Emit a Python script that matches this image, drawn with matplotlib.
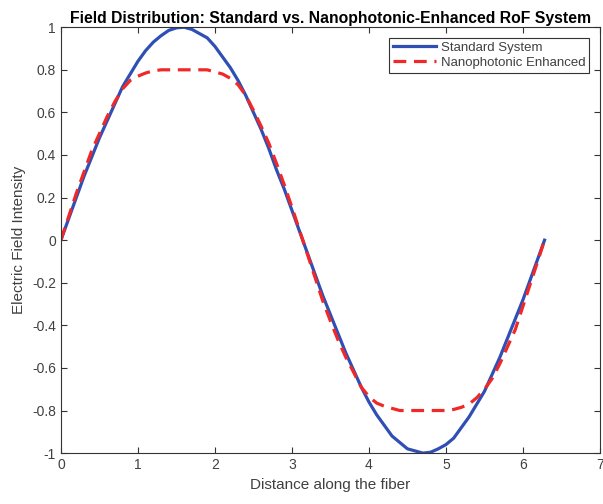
import matplotlib
matplotlib.use("Agg")
import matplotlib.pyplot as plt

# values
x = [0.0, 0.1, 0.2, 0.3, 0.4, 0.5, 0.6, 0.7, 0.8, 0.9,
     1.0, 1.1, 1.2, 1.3, 1.4, 1.5, 1.6, 1.7, 1.8, 1.9,
     2.0, 2.1, 2.2, 2.3, 2.4, 2.5, 2.6, 2.7, 2.8, 2.9,
     3.0, 3.1, 3.2, 3.3, 3.4, 3.5, 3.6, 3.7, 3.8, 3.9,
     4.0, 4.1, 4.2, 4.3, 4.4, 4.5, 4.6, 4.7, 4.8, 4.9,
     5.0, 5.1, 5.2, 5.3, 5.4, 5.5, 5.6, 5.7, 5.8, 5.9,
     6.0, 6.1, 6.2, 6.28]
standard = [0.0, 0.10, 0.20, 0.30, 0.39, 0.48, 0.56, 0.64, 0.72, 0.78,
            0.84, 0.89, 0.93, 0.96, 0.985, 0.997, 1.0, 0.99, 0.97, 0.95,
            0.91, 0.86, 0.81, 0.75, 0.68, 0.60, 0.52, 0.43, 0.33, 0.24,
            0.14, 0.04, -0.06, -0.16, -0.26, -0.35, -0.44, -0.53, -0.61, -0.69,
            -0.76, -0.82, -0.87, -0.92, -0.95, -0.98, -0.99, -1.0, -0.996, -0.98,
            -0.96, -0.93, -0.88, -0.83, -0.77, -0.71, -0.63, -0.55, -0.46, -0.37,
            -0.28, -0.18, -0.08, 0.0]
enhanced = [0.0, 0.11, 0.22, 0.32, 0.42, 0.50, 0.58, 0.65, 0.71, 0.75,
            0.77, 0.785, 0.795, 0.80, 0.80, 0.80, 0.80, 0.80, 0.80, 0.80,
            0.79, 0.78, 0.76, 0.73, 0.68, 0.61, 0.535, 0.455, 0.36, 0.26,
            0.155, 0.045, -0.065, -0.175, -0.285, -0.38, -0.47, -0.55, -0.62, -0.69,
            -0.735, -0.765, -0.78, -0.79, -0.80, -0.80, -0.80, -0.80, -0.80, -0.80,
            -0.80, -0.795, -0.785, -0.77, -0.74, -0.70, -0.65, -0.58, -0.50, -0.42,
            -0.31, -0.20, -0.09, 0.0]

plt.rcParams["font.family"] = ["Liberation Sans", "DejaVu Sans"]
plt.rcParams["axes.unicode_minus"] = False

fig = plt.figure(figsize=(6.03, 5.04), dpi=100)
ax = fig.add_axes([0.101, 0.101, 0.894, 0.845])

ax.plot(x, standard, color="#2f4fb5", lw=2.3, label="Standard System")
ax.plot(x, enhanced, color="#f02828", lw=2.3, ls="--", dashes=(4, 2.4),
        label="Nanophotonic Enhanced")

ax.set_xlim(0, 7)
ax.set_ylim(-1, 1)
ax.set_xticks(range(8))
ax.set_yticks([-1, -0.8, -0.6, -0.4, -0.2, 0, 0.2, 0.4, 0.6, 0.8, 1])
ax.set_yticklabels(["-1", "-0.8", "-0.6", "-0.4", "-0.2", "0", "0.2", "0.4", "0.6", "0.8", "1"])
ax.tick_params(direction="in", top=True, right=True, length=4, width=0.8,
               labelsize=10, colors="#333333", labelcolor="#404040")
for s in ax.spines.values():
    s.set_color("#333333")
    s.set_linewidth(0.8)

ax.set_xlabel("Distance along the fiber", fontsize=11, color="#404040")
ax.set_ylabel("Electric Field Intensity", fontsize=11, color="#404040")
ax.set_title("Field Distribution: Standard vs. Nanophotonic-Enhanced RoF System",
             fontsize=11.3, fontweight="bold", pad=3)

leg = ax.legend(loc="upper right", fontsize=9.5, fancybox=False, framealpha=1,
                edgecolor="#333333", borderpad=0.3, labelspacing=0.2,
                handlelength=3.2, handletextpad=0.4, borderaxespad=0.8)
leg.get_frame().set_linewidth(0.8)
for t in leg.get_texts():
    t.set_color("#404040")

fig.savefig("out.png", dpi=100)
